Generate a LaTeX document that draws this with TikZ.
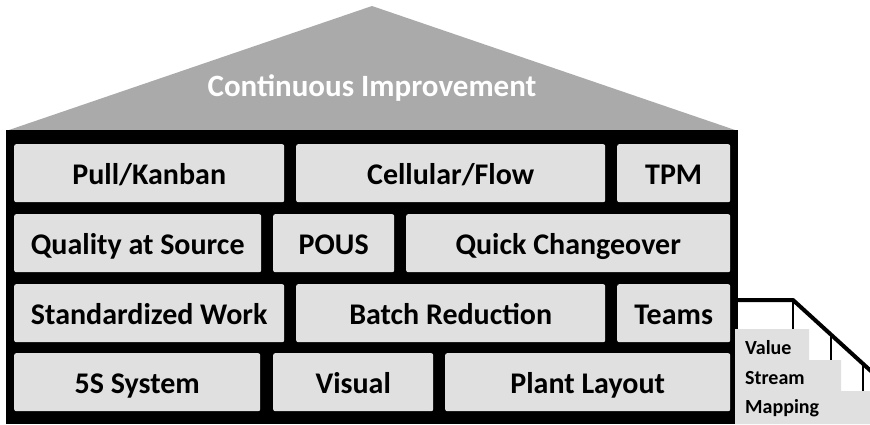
\documentclass[tikz,border=0pt]{standalone}
\usepackage{fontspec}
\setmainfont{Carlito}
\begin{document}
\begin{tikzpicture}[x=1pt,y=-1pt,
  brick/.style={fill=brickgray, rounded corners=2pt, inner sep=0pt, anchor=north west,
    minimum height=58, text height=23.5pt, text depth=0pt,
    font=\fontsize{30}{30}\selectfont\bfseries, text=black},
  vsmtext/.style={anchor=base west, inner sep=0pt, font=\fontsize{20}{20}\selectfont\bfseries},
  rail/.style={line width=4pt, line cap=round, line join=round},
  post/.style={line width=2.5pt}]
\definecolor{roofgray}{HTML}{AAAAAA}
\definecolor{brickgray}{HTML}{E0E0E0}
\useasboundingbox (0,0) rectangle (870,424);
% roof
\fill[roofgray] (6,131) -- (372,6) -- (738,131) -- cycle;
\node[text=white, anchor=base, inner sep=0pt, font=\fontsize{31}{31}\selectfont\bfseries] (roof) at (372,96) {Continuous Improvement};
% wall
\fill[black] (6,130) rectangle (738,424);
% row 1
\node[brick, minimum width=270] (pull) at (14,144) {Pull/Kanban};
\node[brick, minimum width=309] (cell) at (296,144) {Cellular/Flow};
\node[brick, minimum width=113] (tpm) at (617,144) {TPM};
% row 2
\node[brick, minimum width=247] (qas) at (14,214) {Quality at Source};
\node[brick, minimum width=121] (pous) at (273,214) {POUS};
\node[brick, minimum width=324] (qc) at (406,214) {Quick Changeover};
% row 3
\node[brick, minimum width=270] (sw) at (14,284) {Standardized Work};
\node[brick, minimum width=309] (br) at (296,284) {Batch Reduction};
\node[brick, minimum width=113] (teams) at (617,284) {Teams};
% row 4
\node[brick, minimum width=246] (fives) at (14,353) {5S System};
\node[brick, minimum width=160] (vis) at (273,353) {Visual};
\node[brick, minimum width=285] (plant) at (445,353) {Plant Layout};
% stair rail and posts
\coordinate (railstart) at (738,300);
\coordinate (railknee) at (793,300);
\coordinate (railend) at (872,372);
\coordinate (postA) at (793,329);
\coordinate (postBtop) at (831,334.6);
\coordinate (postB) at (831,360);
\coordinate (postCtop) at (863,363.7);
\coordinate (postC) at (863,391);
\draw[post] (railknee) -- (postA);
\draw[post] (postBtop) -- (postB);
\draw[post] (postCtop) -- (postC);
\draw[rail] (railstart) -- (railknee) -- (railend);
% steps
\fill[brickgray] (735,329) -- (809,329) -- (809,360) -- (841,360) -- (841,391)
  -- (870,391) -- (870,424) -- (735,424) -- cycle;
\node[vsmtext] (vsm1) at (745,354) {Value};
\node[vsmtext] (vsm2) at (745,384) {Stream};
\node[vsmtext] (vsm3) at (745,413) {Mapping};
\end{tikzpicture}
\end{document}
